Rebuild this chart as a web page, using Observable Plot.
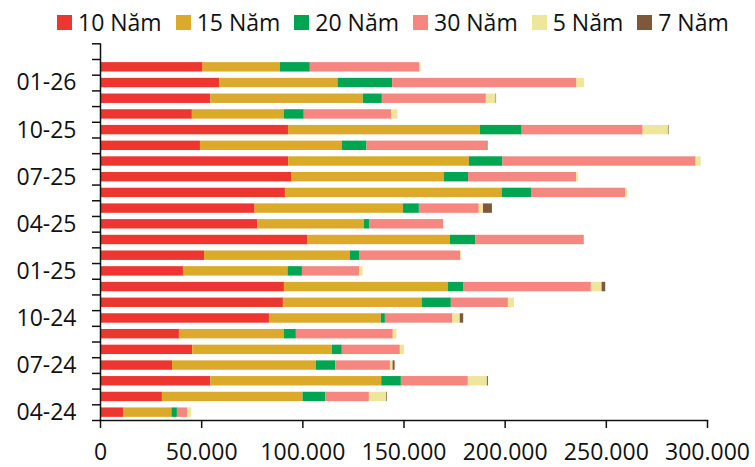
<!DOCTYPE html>
<html>
<head>
<meta charset="utf-8">
<script src="https://cdn.jsdelivr.net/npm/d3@7"></script>
<script src="https://cdn.jsdelivr.net/npm/@observablehq/plot@0.6"></script>
<style>
  html, body { margin: 0; padding: 0; background: #fff; }
  body { width: 755px; height: 467px; overflow: hidden; font-family: "Open Sans", sans-serif; color: #111; }
  #legend { height: 40px; display: flex; align-items: center; padding-left: 57px; padding-top: 4px; box-sizing: border-box; font-size: 23px; }
  .item { display: flex; align-items: center; margin-right: 14px; }
  .sw { width: 15px; height: 15px; margin-right: 6px; }
  svg { display: block; }
</style>
</head>
<body>
<div id="legend"></div>
<div id="chart"></div>
<script>
// Months, chronological (bottom to top); "03-26" is an empty slot at the top of the axis
const months = ["04-24","05-24","06-24","07-24","08-24","09-24","10-24","11-24","12-24",
  "01-25","02-25","03-25","04-25","05-25","06-25","07-25","08-25","09-25","10-25","11-25","12-25",
  "01-26","02-26"];
const emptyMonth = "03-26";
const labelMonths = ["04-24","07-24","10-24","01-25","04-25","07-25","10-25","01-26"];

const series = ["10 Năm","15 Năm","20 Năm","30 Năm","5 Năm","7 Năm"];
const colors = ["#EE3630","#DBAA2B","#00A551","#F58780","#EEE69B","#7D583A"];

const v10 = [11400,30600,54500,35600,45600,39000,83500,90400,90900,41000,51400,102300,77700,76400,91400,94400,93000,49400,92900,45400,54500,58900,50700];
const v15 = [23900,69500,84500,71000,69000,51900,55300,68700,81000,51700,72000,70600,52700,73300,107100,75600,89300,70100,94800,45400,75400,58500,38200];
const v20 = [2700,11200,9700,9700,4900,5900,2000,14300,7800,7100,4600,12500,2800,7900,14500,11900,16600,12200,20700,9900,9400,27000,14800];
const v30 = [5100,21600,33100,27000,28700,47900,33200,28200,62900,28200,50000,53700,36400,29600,46700,53400,95500,59100,59800,43300,51400,91100,54000];
const v5  = [2000,8500,9400,1300,2100,1800,3800,3000,5300,1800,500,0,0,2100,800,1000,2500,200,12500,3000,4800,3800,700];
const v7  = [0,350,500,1000,0,0,1700,0,1800,0,0,0,0,4400,0,0,0,500,300,0,250,0,0];

const xTicks = [0,50000,100000,150000,200000,250000,300000];

const valuesBySeries = [v10, v15, v20, v30, v5, v7];
const data = [];
months.forEach((m, i) => {
  series.forEach((s, j) => data.push({month: m, series: s, value: valuesBySeries[j][i]}));
});

// legend
const legend = document.getElementById("legend");
series.forEach((s, j) => {
  const it = document.createElement("div");
  it.className = "item";
  it.innerHTML = `<span class="sw" style="background:${colors[j]}"></span><span>${s}</span>`;
  legend.appendChild(it);
});

const W = 755, H = 427, mt = 3.3, mb = 47, ml = 100, mr = 48;
const yDomain = [emptyMonth, ...months.slice().reverse()];
const step = (H - mt - mb) / yDomain.length;

const fmt = d3.formatLocale({decimal: ",", thousands: ".", grouping: [3], currency: ["", ""]}).format(",");

const chart = Plot.plot({
  width: W, height: H,
  marginTop: mt, marginBottom: mb, marginLeft: ml, marginRight: mr,
  style: {fontFamily: "Open Sans, sans-serif", fontSize: "23px", color: "#111", background: "#fff"},
  x: {domain: [0, 300000]},
  y: {domain: yDomain, paddingInner: 0.4, paddingOuter: 0.2, round: false},
  color: {domain: series, range: colors},
  marks: [
    Plot.barX(data, Plot.stackX({x: "value", y: "month", fill: "series", order: series})),
    Plot.axisY({ticks: yDomain, tickSize: 8, tickFormat: () => "", dy: -step / 2, strokeWidth: 1.5, label: null}),
    Plot.axisY({ticks: [months[0]], tickSize: 8, tickFormat: () => "", dy: step / 2, strokeWidth: 1.5, label: null}),
    Plot.axisY({ticks: labelMonths, tickSize: 0, tickPadding: 24, fontSize: 23, label: null}),
    Plot.axisX({ticks: xTicks, tickSize: 8, tickPadding: 15, tickFormat: fmt, fontSize: 23, strokeWidth: 1.5, label: null}),
    Plot.ruleX([0], {strokeWidth: 1.5}),
    Plot.frame({anchor: "bottom", strokeWidth: 1.5})
  ]
});
document.getElementById("chart").appendChild(chart);
</script>
</body>
</html>
